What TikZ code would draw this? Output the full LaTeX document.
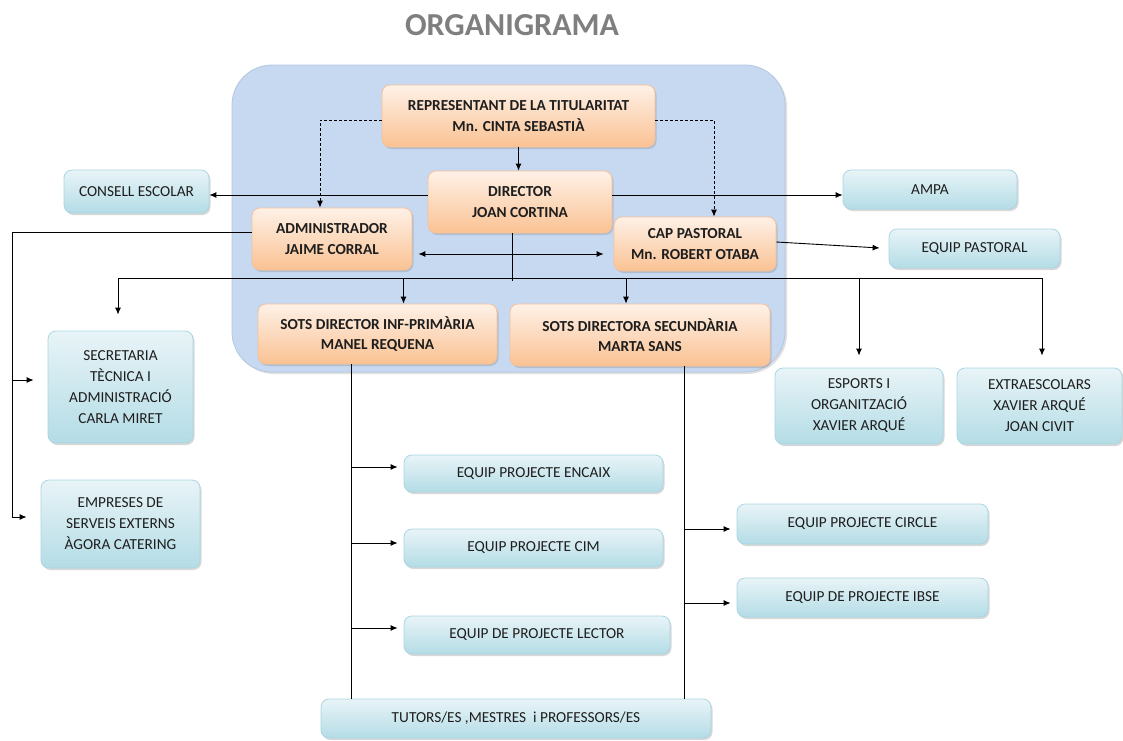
\documentclass[tikz,border=0pt]{standalone}
\usepackage{fontspec}
\setmainfont{Carlito}
\usetikzlibrary{arrows.meta,shadows}
\definecolor{regionfill}{HTML}{C6D9F1}
\definecolor{regionedge}{HTML}{B4C7E2}
\definecolor{otop}{HTML}{FEF1E7}
\definecolor{obot}{HTML}{FAC293}
\definecolor{oedge}{HTML}{F6C09A}
\definecolor{btop}{HTML}{E8F4F7}
\definecolor{bbot}{HTML}{B4DCE6}
\definecolor{bedge}{HTML}{A9D6E2}
\definecolor{titlegray}{HTML}{7F7F7F}
\definecolor{txt}{HTML}{1E1E1E}
\tikzset{
  region/.style={draw=regionedge, fill=regionfill, rounded corners=40pt, line width=0.8pt,
    drop shadow={shadow xshift=2pt, shadow yshift=-2pt, opacity=0.25}},
  obox/.style={draw=oedge, line width=0.8pt, rounded corners=8pt, top color=otop, bottom color=obot,
    align=center, inner sep=2pt, text=txt, font=\fontsize{15.3}{20.5}\selectfont\bfseries,
    drop shadow={shadow xshift=1.5pt, shadow yshift=-2pt, opacity=0.3}},
  bbox/.style={draw=bedge, line width=0.8pt, rounded corners=8pt, top color=btop, bottom color=bbot,
    align=center, inner sep=2pt, text=txt, font=\fontsize{15.3}{21}\selectfont,
    drop shadow={shadow xshift=1.5pt, shadow yshift=-2pt, opacity=0.3}},
  conn/.style={draw=black, line width=0.9pt},
  arr/.style={conn, -{Latex[length=7pt,width=6pt]}},
  darr/.style={conn, {Latex[length=7pt,width=6pt]}-{Latex[length=7pt,width=6pt]}},
  dasharr/.style={arr, dash pattern=on 3pt off 2pt},
}
\begin{document}
\begin{tikzpicture}[x=1pt,y=-1pt]
\useasboundingbox (0,0) rectangle (1123,740);
\fill[white] (0,0) rectangle (1123,740);
\node[font=\fontsize{32}{36}\selectfont\bfseries, text=titlegray] (title) at (512,25) {ORGANIGRAMA};
\node[region, minimum width=553pt, minimum height=307pt] (region) at (508.5,218.5) {};
% orange boxes
\node[obox, minimum width=273pt, minimum height=62pt] (rep) at (518.5,116) {REPRESENTANT DE LA TITULARITAT\\Mn. CINTA SEBASTIÀ};
\node[obox, minimum width=184pt, minimum height=62pt] (dir) at (520,202) {DIRECTOR\\JOAN CORTINA};
\node[obox, minimum width=160pt, minimum height=62pt] (adm) at (332,239) {ADMINISTRADOR\\JAIME CORRAL};
\node[obox, minimum width=162pt, minimum height=54pt] (cap) at (695,244) {CAP PASTORAL\\Mn. ROBERT OTABA};
\node[obox, minimum width=239pt, minimum height=60pt] (sp) at (377.5,334) {SOTS DIRECTOR INF-PRIMÀRIA\\MANEL REQUENA};
\node[obox, minimum width=260pt, minimum height=62pt] (ss) at (640,335) {SOTS DIRECTORA SECUNDÀRIA\\MARTA SANS};
% blue boxes
\node[bbox, minimum width=145pt, minimum height=43pt] (ce) at (136.5,191.5) {CONSELL ESCOLAR};
\node[bbox, minimum width=174pt, minimum height=39pt] (ampa) at (930,189.5) {AMPA};
\node[bbox, minimum width=171pt, minimum height=39pt] (eqp) at (974.5,248.5) {EQUIP PASTORAL};
\node[bbox, minimum width=145pt, minimum height=112pt] (sec) at (120.5,387) {SECRETARIA\\TÈCNICA I\\ADMINISTRACIÓ\\CARLA MIRET};
\node[bbox, minimum width=159pt, minimum height=88pt] (emp) at (120.5,524) {EMPRESES DE\\SERVEIS EXTERNS\\ÀGORA CATERING};
\node[bbox, minimum width=168pt, minimum height=76pt] (esp) at (859,406) {ESPORTS I\\ORGANITZACIÓ\\XAVIER ARQUÉ};
\node[bbox, minimum width=165pt, minimum height=76pt] (ext) at (1039.5,406) {EXTRAESCOLARS\\XAVIER ARQUÉ\\JOAN CIVIT};
\node[bbox, minimum width=259pt, minimum height=37pt] (enc) at (533.5,473.5) {EQUIP PROJECTE ENCAIX};
\node[bbox, minimum width=259pt, minimum height=38pt] (cim) at (533.5,548) {EQUIP PROJECTE CIM};
\node[bbox, minimum width=266pt, minimum height=38pt] (lec) at (537,635) {EQUIP DE PROJECTE LECTOR};
\node[bbox, minimum width=390pt, minimum height=39pt] (tut) at (516,718.5) {TUTORS/ES ,MESTRES \ i PROFESSORS/ES};
\node[bbox, minimum width=251pt, minimum height=40pt] (cir) at (862.5,524) {EQUIP PROJECTE CIRCLE};
\node[bbox, minimum width=251pt, minimum height=39pt] (ibse) at (862.5,597.5) {EQUIP DE PROJECTE IBSE};
% connectors
\draw[dasharr] ([yshift=-4pt]rep.west) -| ([xshift=-12pt]adm.north);
\draw[dasharr] ([yshift=-4pt]rep.east) -| ([xshift=19pt]cap.north);
\draw[arr] (rep.south) -- (rep.south |- dir.north);
\draw[arr] ([yshift=7pt]dir.west) -- ([yshift=7pt]dir.west -| ce.east);
\draw[arr] ([yshift=7pt]dir.east) -- ([yshift=7pt]dir.east -| ampa.west);
\coordinate (ladm) at (12,232);
\draw[conn] ([yshift=7pt]adm.west) -- (ladm);
\draw[arr, shorten >=14pt] (ladm) |- ([yshift=7pt]emp.west);
\draw[arr, shorten >=14pt] (ladm |- sec.west) ++(0,-7) -- ([yshift=7pt]sec.west);
\draw[darr, shorten <=6pt, shorten >=10pt] ([yshift=-15pt]adm.east) -- ([yshift=-15pt]adm.east -| cap.west);
\draw[arr, shorten >=9pt] ([yshift=2pt]cap.east) -- (eqp.west);
% bus
\coordinate (busL) at (118,278);
\coordinate (busR) at (1042,278);
\draw[conn] ([xshift=-8pt]dir.south) -- ++(0,48);
\draw[conn] (busL) -- (busR);
\draw[arr, shorten >=16pt] (busL) -- (busL |- sec.north);
\draw[arr] ([xshift=26pt]sp.north |- busL) -- ([xshift=26pt]sp.north);
\draw[arr] ([xshift=-14pt]ss.north |- busL) -- ([xshift=-14pt]ss.north);
\draw[arr, shorten >=12pt] (esp.north |- busL) -- (esp.north);
\draw[arr, shorten >=12pt] (busR) -- (busR |- ext.north);
% primary branch
\coordinate (pv) at ([xshift=-26.5pt]sp.south);
\draw[conn] (pv) -- (pv |- tut.north);
\draw[arr, shorten >=6pt] (pv |- enc.west) ++(0,-6.5) -- ([yshift=6.5pt]enc.west);
\draw[arr, shorten >=6pt] (pv |- cim.west) ++(0,-5) -- ([yshift=5pt]cim.west);
\draw[arr, shorten >=6pt] (pv |- lec.west) ++(0,-7) -- ([yshift=7pt]lec.west);
% secondary branch
\coordinate (sv) at ([xshift=44pt]ss.south);
\draw[conn] (sv) -- (sv |- tut.north);
\draw[arr, shorten >=6pt] (sv |- cir.west) ++(0,5) -- ([yshift=-5pt]cir.west);
\draw[arr, shorten >=6pt] (sv |- ibse.west) ++(0,5.5) -- ([yshift=-5.5pt]ibse.west);
\end{tikzpicture}
\end{document}
